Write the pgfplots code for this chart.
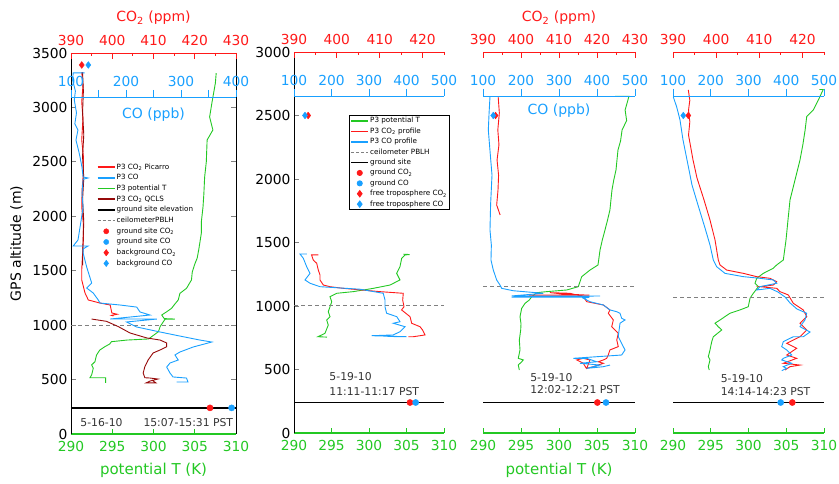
\documentclass[border=0pt]{standalone}
\usepackage{fontspec}
\setmainfont{DejaVu Sans}
\usepackage{pgfplots}
\pgfplotsset{compat=1.18}

\definecolor{cred}{RGB}{255,25,25}
\definecolor{cblue}{RGB}{25,160,255}
\definecolor{cgreen}{RGB}{35,200,35}
\definecolor{cdark}{RGB}{150,10,10}

\newcommand\tkfont{\fontsize{13.8}{15}\selectfont}
\newcommand\legfont{\fontsize{7.2}{8}\selectfont}
\newcommand\annfont{\fontsize{10.8}{12}\selectfont}
\newcommand\labfont{\fontsize{14}{16}\selectfont}

\pgfplotsset{
  panel/.style={scale only axis, clip=false, separate axis lines,
    /pgf/number format/assume math mode=true, /pgf/number format/1000 sep={},
    ticklabel style={font=\tkfont}, every tick/.append style={line width=0.8pt}},
  taxis/.style={panel, xmin=290, xmax=310, xtick={290,295,...,310}, ymin=0,
    axis x line=bottom, x axis line style={-, draw=cgreen, line width=1.3pt},
    y axis line style={-, black, line width=0.9pt},
    xticklabel style={text=cgreen, yshift=-4pt},
    every x tick/.append style={cgreen}, tick align=inside, major tick length=5pt},
  co2axis/.style={panel, xmin=390, ymin=0, axis x line=top, axis y line=none, ytick=\empty,
    x axis line style={-, draw=cred, line width=0.9pt},
    xticklabel style={text=cred, yshift=3.5pt}, tick style={cred},
    tick align=inside, major tick length=6pt, minor tick length=3pt},
  coaxis/.style={panel, xmin=100, ymin=0, axis x line=top, axis y line=none, ytick=\empty,
    x axis line style={-, draw=cblue, line width=0.9pt},
    xticklabel style={text=cblue}, tick style={cblue},
    tick align=outside, major tick length=7pt, minor tick length=7pt},
  prof/.style={line width=0.9pt, forget plot},
  leg/.style={legend cell align=left, legend style={anchor=north west, font=\legfont,
    inner sep=1pt, nodes={font=\legfont, inner sep=1.2pt, text height=5.5pt, text depth=1.5pt}}},
}

\begin{document}
\begin{tikzpicture}
\useasboundingbox (0,0) rectangle (839pt,484pt);

%================ panel 1 : 5-16-10 =================
\begin{axis}[taxis, at={(71pt,50pt)}, width=165pt, height=381pt, ymax=3500,
  ytick={0,500,...,3500}, axis y line=box, y axis line style={-, black},
  yticklabel pos=left, tick align=inside,
  ylabel={GPS altitude (m)}, ylabel style={font=\labfont, at={(axis description cs:-0.33,0.5)}, anchor=center},
  leg, legend style={at={(0.150,0.716)}, draw=none, fill=none, row sep=1.3pt}]
\addplot[prof, cgreen] coordinates {
(294.2,470) (294.2,517) (293.9,517) (292.3,517) (292.5,542) (292.7,604) (292.5,634)
(292.9,664) (293.1,726) (293.5,772) (294.1,802) (294.7,827) (294.9,848) (296.8,863)
(299.4,873) (300.6,940) (300.8,986) (301.2,1032) (301.4,1054) (302.6,1056) (301.3,1060)
(301.0,1093) (301.6,1123) (302.2,1155) (302.6,1195) (303.0,1231) (303.2,1292) (304.0,1338)
(304.6,1415) (304.7,1488) (305.0,1560) (305.3,1617) (305.5,1700) (305.8,1846) (305.8,1950)
(306.0,2085) (306.1,2200) (306.2,2361) (306.4,2500) (306.5,2701) (307.2,2793) (306.8,2912)
(307.1,3050) (307.5,3224) (307.6,3316)};
\addplot[forget plot, black, line width=1.4pt] coordinates {(290,240) (310,240)};
\addplot[forget plot, gray, line width=1.1pt, dash pattern=on 4pt off 3pt] coordinates {(290,1000) (310,1000)};
\addlegendimage{cred, line width=1.5pt} \addlegendentry{P3 CO\textsubscript{2} Picarro}
\addlegendimage{cblue, line width=1.5pt} \addlegendentry{P3 CO}
\addlegendimage{cgreen, line width=1.5pt} \addlegendentry{P3 potential T}
\addlegendimage{cdark, line width=1.5pt} \addlegendentry{P3 CO\textsubscript{2} QCLS}
\addlegendimage{black, line width=1.5pt} \addlegendentry{ground site elevation}
\addlegendimage{gray, line width=1pt, dash pattern=on 3pt off 2pt} \addlegendentry{ceilometerPBLH}
\addlegendimage{only marks, mark=*, cred, mark size=2.6pt} \addlegendentry{ground site CO\textsubscript{2}}
\addlegendimage{only marks, mark=*, cblue, mark size=2.6pt} \addlegendentry{ground site CO}
\addlegendimage{only marks, mark=diamond*, cred, mark size=3.2pt} \addlegendentry{background CO\textsubscript{2}}
\addlegendimage{only marks, mark=diamond*, cblue, mark size=3.2pt} \addlegendentry{background CO}
\node[anchor=base west, font=\annfont, text=black!80] at (axis description cs:0.036,0.019) {5-16-10};
\node[anchor=base west, font=\annfont, text=black!80] at (axis description cs:0.418,0.019) {15:07-15:31 PST};
\node[font=\fontsize{15}{17}\selectfont, text=cgreen] at (axis description cs:0.5,-0.095) {potential T (K)};
\end{axis}

\begin{axis}[co2axis, at={(71pt,50pt)}, width=165pt, height=381pt, xmax=430, ymax=3500,
  xtick={390,400,...,430}, minor xtick={395,405,415,425}]
\addplot[prof, cred] coordinates {
(392.6,3325) (392.9,3200) (392.6,3050) (392.9,2900) (392.6,2701) (393.0,2550) (393.0,2398)
(392.7,2250) (392.6,2085) (393.0,1930) (393.0,1782) (392.8,1650) (392.6,1507) (392.6,1415)
(393.4,1295) (394.2,1231) (397.0,1203) (399.5,1185) (399.9,1112) (401.2,1100) (399.8,1090) (400.3,1084)};
\addplot[prof, cdark] coordinates {
(392.8,3325) (393.0,3150) (392.8,2950) (393.1,2750) (392.8,2550) (393.1,2350) (392.8,2150)
(393.1,1950) (392.9,1750) (392.8,1550)};
\addplot[prof, cdark] coordinates {
(395.0,1056) (398.6,1035) (401.5,986) (404.3,928) (408.4,882) (411.6,863) (413.2,836)
(413.2,802) (411.6,772) (409.9,744) (408.7,680) (407.9,618) (407.5,560) (407.9,517)
(409.2,514) (411.1,505) (409.2,487) (408.2,469) (410.6,469) (409.6,496)};
\addplot[forget plot, only marks, mark=*, cred, mark size=3.1pt] coordinates {(423.7,240)};
\addplot[forget plot, only marks, mark=diamond*, cred, mark size=3.4pt] coordinates {(392.6,3390)};
\node[font=\labfont, text=cred] at (axis description cs:0.5,1.092) {CO\textsubscript{2} (ppm)};
\end{axis}

\begin{axis}[coaxis, at={(71pt,50pt)}, width=165pt, height=337pt, xmax=400, ymax=3096,
  xtick={100,200,300,400}, minor xtick={150,250,350}]
\addplot[prof, cblue] coordinates {
(125,3318) (104,3318) (103,3250) (108,3150) (106,3068) (110,2950) (107,2850) (112.7,2793)
(109,2700) (114,2600) (116.4,2545) (120,2450) (122,2361) (131,2352) (122,2340) (120,2200)
(122,2085) (118,1950) (112.7,1782) (104,1727) (131,1727) (122,1700) (122,1663) (128.5,1534)
(137.6,1387) (128.5,1341) (140.5,1295) (149.6,1231) (152.7,1203) (189,1185) (219.5,1166)
(225.5,1121) (243.6,1093) (171,1056) (256,1056) (201,1029) (219.5,983) (262,937) (289,909)
(334.5,863) (356,845) (322,799) (298,753) (289,726) (295,680) (280,652) (274,615) (280,560)
(285.5,524) (310,514) (312.7,478) (292,478)};
\addplot[forget plot, only marks, mark=*, cblue, mark size=3.1pt] coordinates {(392,240)};
\addplot[forget plot, only marks, mark=diamond*, cblue, mark size=3.4pt] coordinates {(131.5,3390)};
\node[font=\labfont, text=cblue] at (axis description cs:0.5,0.947) {CO (ppb)};
\end{axis}

%================ panel 2 : 5-19-10 11:11 =================
\begin{axis}[taxis, at={(294pt,51pt)}, width=150pt, height=381pt, ymax=3000,
  ytick={0,500,...,3000}, axis y line=left, y axis line style={-, black},
  tick align=inside,
  leg, legend style={at={(0.367,0.835)}, draw=black, line width=0.8pt, fill=white, row sep=1.0pt}]
\addplot[prof, cgreen] coordinates {
(294.4,755) (293.2,758) (294.13,785) (294.57,850) (294.36,890) (294.8,916) (294.57,955)
(294.8,994) (295.03,1033) (294.8,1073) (295.69,1100) (297.9,1113) (300.57,1139) (302.8,1165)
(304.13,1205) (303.69,1257) (304.13,1309) (304.36,1376) (304.8,1402) (305.4,1405) (304.6,1408)};
\addplot[forget plot, black, line width=1.4pt] coordinates {(290,240) (310,240)};
\addplot[forget plot, gray, line width=1.1pt, dash pattern=on 4pt off 3pt] coordinates {(290,1005) (310,1005)};
\addlegendimage{cgreen, line width=1.5pt} \addlegendentry{P3 potential T}
\addlegendimage{cred, line width=1.5pt} \addlegendentry{P3 CO\textsubscript{2} profile}
\addlegendimage{cblue, line width=1.5pt} \addlegendentry{P3 CO profile}
\addlegendimage{gray, line width=1pt, dash pattern=on 3pt off 2pt} \addlegendentry{ceilometer PBLH}
\addlegendimage{black, line width=1.5pt} \addlegendentry{ground site}
\addlegendimage{only marks, mark=*, cred, mark size=2.6pt} \addlegendentry{ground CO\textsubscript{2}}
\addlegendimage{only marks, mark=*, cblue, mark size=2.6pt} \addlegendentry{ground CO}
\addlegendimage{only marks, mark=diamond*, cred, mark size=3.2pt} \addlegendentry{free troposphere CO\textsubscript{2}}
\addlegendimage{only marks, mark=diamond*, cblue, mark size=3.2pt} \addlegendentry{free troposphere CO}
\node[anchor=base west, font=\annfont, text=black!80] at (axis description cs:0.213,0.1365) {5-19-10};
\node[anchor=base west, font=\annfont, text=black!80] at (axis description cs:0.213,0.098) {11:11-11:17 PST};
\end{axis}

\begin{axis}[co2axis, at={(294pt,51pt)}, width=150pt, height=381pt, xmax=425, ymax=3000,
  xtick={390,400,...,420}, minor xtick={395,405,415,425}]
\addplot[prof, cred] coordinates {
(395.7,1402) (394.1,1402) (394.5,1362) (395.3,1336) (395.67,1283) (396.07,1244) (396.07,1205)
(396.84,1165) (398.4,1152) (401.5,1139) (410.07,1113) (415.5,1100) (415.36,1047) (415.67,994)
(415.1,969) (417.07,916) (417.46,864) (419.4,837) (420.0,811) (420.57,772) (417.84,758) (416.67,758)};
\addplot[forget plot, only marks, mark=*, cred, mark size=3.1pt] coordinates {(417.07,240)};
\addplot[forget plot, only marks, mark=diamond*, cred, mark size=3.4pt] coordinates {(393.3,2500)};
\end{axis}

\begin{axis}[coaxis, at={(294pt,51pt)}, width=150pt, height=337pt, xmax=500, ymax=2653.5,
  xtick={100,200,...,500}]
\addplot[prof, cblue] coordinates {
(134,1409) (116,1409) (124.8,1376) (133.9,1309) (142.7,1257) (129.3,1205) (142.7,1179)
(169.3,1152) (276,1132) (338,1100) (342.7,1047) (342.7,994) (347,943) (374,916) (382.7,876)
(364.8,864) (396,837) (382.7,798) (364.8,772) (307,766) (400.5,758) (350,760)};
\addplot[forget plot, only marks, mark=*, cblue, mark size=3.1pt] coordinates {(424.5,240)};
\addplot[forget plot, only marks, mark=diamond*, cblue, mark size=3.4pt] coordinates {(129.3,2500)};
\end{axis}

%================ panel 3 : 5-19-10 12:02 =================
\begin{axis}[taxis, at={(483pt,51pt)}, width=152pt, height=381pt, ymax=3000,
  axis y line=none, ytick=\empty, tick align=inside]
\addplot[prof, cgreen] coordinates {
(307.4,2650) (309.2,2650) (308.7,2543) (308.9,2460) (308.3,2386) (308.1,2300) (307.76,2228)
(307.5,2071) (307.2,1990) (306.97,1913) (306.7,1756) (306.4,1680) (306.05,1598) (305.7,1520)
(305.4,1441) (305.13,1323) (304.08,1283) (302.99,1231) (302.76,1191) (302.54,1152) (301.01,1126)
(298.38,1113) (297.07,1105) (296.41,1073) (296.09,1047) (295.53,1021) (295.09,982) (294.87,916)
(295.0,860) (294.96,811) (294.78,732) (294.87,654) (294.64,588) (295.3,575) (295.09,561)
(294.64,535) (294.78,496)};
\addplot[forget plot, black, line width=1.4pt] coordinates {(290,240) (310,240)};
\addplot[forget plot, gray, line width=1.1pt, dash pattern=on 4pt off 3pt] coordinates {(290,1155) (310,1155)};
\node[anchor=base west, font=\annfont, text=black!80] at (axis description cs:0.288,0.135) {5-19-10};
\node[anchor=base west, font=\annfont, text=black!80] at (axis description cs:0.288,0.104) {12:02-12:21 PST};
\node[font=\fontsize{15}{17}\selectfont, text=cgreen] at (axis description cs:0.5,-0.097) {potential T (K)};
\end{axis}

\begin{axis}[co2axis, at={(483pt,51pt)}, width=152pt, height=381pt, xmax=430, ymax=3000,
  xtick={390,400,...,430}, minor xtick={395,405,415,425}]
\addplot[prof, cred] coordinates {
(394.0,2646) (394.3,2520) (393.9,2386) (394.2,2270) (393.7,2150) (394.1,2030) (393.95,1913)
(393.6,1795) (394.5,1717)};
\addplot[prof, cred] coordinates {
(402,1085) (418,1085) (411,1095) (407.6,1105) (412.9,1100) (416.4,1073) (417.3,1034)
(421.66,1008) (423.4,969) (422.97,943) (424.3,890) (423.87,837) (425.6,785) (425.2,732)
(425.6,680) (423.4,654) (422.97,614) (422.55,588) (421.66,575) (420.34,561) (421.66,549)
(419.03,522) (417.3,509) (418.16,575) (416.4,588) (414.66,575) (416.4,549) (417.3,504)};
\addplot[forget plot, only marks, mark=*, cred, mark size=3.1pt] coordinates {(420.1,240)};
\addplot[forget plot, only marks, mark=diamond*, cred, mark size=3.4pt] coordinates {(393.3,2500)};
\node[font=\labfont, text=cred] at (axis description cs:0.5,1.089) {CO\textsubscript{2} (ppm)};
\end{axis}

\begin{axis}[coaxis, at={(483pt,51pt)}, width=152pt, height=337pt, xmax=500, ymax=2653.5,
  xtick={100,200,...,500}]
\addplot[prof, cblue] coordinates {
(118.4,2648) (116,2520) (114,2386) (119,2200) (123.7,2031) (120,1800) (118.4,1598) (122,1480)
(121,1362) (127.1,1283) (136,1205) (144.7,1165) (149.2,1139) (179.7,1120) (258.7,1100)
(175.5,1079) (407.9,1079) (175.5,1069) (380,1069) (364,1061) (381.6,1034) (416.6,1008)
(434.2,969) (451.8,955) (460.5,943) (465,903) (473.7,890) (460.5,864) (456,758) (469.2,680)
(473.7,654) (465,614) (337.6,588) (372.9,588) (399.2,561) (355.3,549) (407.9,535) (372.9,509)
(416.6,522) (434.2,535)};
\addplot[forget plot, only marks, mark=*, cblue, mark size=3.1pt] coordinates {(423.7,240)};
\addplot[forget plot, only marks, mark=diamond*, cblue, mark size=3.4pt] coordinates {(127,2500)};
\node[font=\labfont, text=cblue] at (axis description cs:0.5,0.9555) {CO (ppb)};
\end{axis}

%================ panel 4 : 5-19-10 14:14 =================
\begin{axis}[taxis, at={(673pt,51pt)}, width=151pt, height=381pt, ymax=3000,
  axis y line=none, ytick=\empty, tick align=inside]
\addplot[prof, cgreen] coordinates {
(309.4,2705) (309.9,2705) (309.25,2622) (308.58,2543) (307.71,2491) (307.5,2386) (307.2,2270)
(306.82,2150) (306.16,1992) (305.5,1835) (305.23,1677) (304.97,1520) (304.61,1362) (303.73,1323)
(303.28,1297) (301.96,1257) (301.09,1218) (300.86,1179) (301.3,1152) (300.64,1100) (300.2,1061)
(299.97,994) (298.87,969) (297.55,943) (296.23,890) (295.56,864) (296.0,837) (296.45,811)
(295.34,758) (295.13,719) (294.9,654) (294.68,601) (294.9,575) (294.68,522) (294.8,496)};
\addplot[forget plot, black, line width=1.4pt] coordinates {(290,240) (310,240)};
\addplot[forget plot, gray, line width=1.1pt, dash pattern=on 4pt off 3pt] coordinates {(290,1065) (310,1065)};
\node[anchor=base west, font=\annfont, text=black!80] at (axis description cs:0.293,0.1325) {5-19-10};
\node[anchor=base west, font=\annfont, text=black!80] at (axis description cs:0.293,0.0997) {14:14-14:23 PST};
\end{axis}

\begin{axis}[co2axis, at={(673pt,51pt)}, width=151pt, height=381pt, xmax=425, ymax=3000,
  xtick={390,400,...,420}, minor xtick={395,405,415,425}]
\addplot[prof, cred] coordinates {
(393.55,2701) (393.9,2620) (393.6,2543) (393.9,2450) (393.6,2346) (394.64,2150) (395.56,2008)
(397.19,1835) (398.58,1677) (399.74,1520) (400.5,1362) (400.9,1323) (402.45,1283) (406.3,1257)
(409.4,1231) (412.48,1218) (414.04,1191) (413.25,1165) (410.17,1152) (414.04,1139) (414.8,1113)
(416.73,1087) (417.89,1021) (420.2,969) (421.0,916) (419.44,864) (421.0,811) (419.44,758)
(416.36,706) (418.67,667) (416.36,614) (418.67,588) (415.57,549) (419.44,535) (417.12,522) (415.96,496)};
\addplot[forget plot, only marks, mark=*, cred, mark size=3.1pt] coordinates {(417.65,240)};
\addplot[forget plot, only marks, mark=diamond*, cred, mark size=3.4pt] coordinates {(393.55,2500)};
\end{axis}

\begin{axis}[coaxis, at={(673pt,51pt)}, width=151pt, height=337pt, xmax=500, ymax=2653.5,
  xtick={100,200,...,500}]
\addplot[prof, cblue] coordinates {
(100.8,2646) (109.8,2567) (118.5,2465) (126.5,2307) (137.1,2150) (150.3,1953) (166.2,1795)
(184.8,1614) (198,1480) (206.8,1362) (215.8,1309) (237.7,1257) (286.2,1231) (330.5,1218)
(365.7,1205) (374.7,1179) (330.5,1152) (321.7,1126) (357,1139) (378,1110) (396.7,1071)
(410,1024) (428.5,976) (454.2,943) (449.7,890) (436.4,837) (463,795) (445.2,758) (418.7,758)
(392.2,719) (388,680) (401.2,654) (414.4,614) (392.2,588) (388,575) (414.4,549) (392.2,522)
(401.2,509) (388,491)};
\addplot[forget plot, only marks, mark=*, cblue, mark size=3.1pt] coordinates {(385.3,240)};
\addplot[forget plot, only marks, mark=diamond*, cblue, mark size=3.4pt] coordinates {(127.3,2500)};
\end{axis}
\end{tikzpicture}
\end{document}
